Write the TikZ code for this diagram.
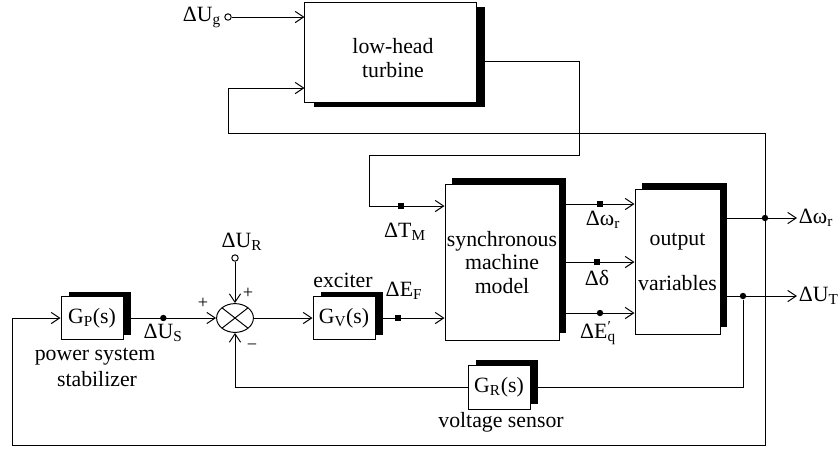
\documentclass[tikz,border=0pt]{standalone}
\usepackage{fontspec}
\setmainfont{Liberation Serif}
\usetikzlibrary{positioning,arrows.meta,shapes.geometric,shadows,calc}

\begin{document}
\begin{tikzpicture}[x=0.025cm, y=-0.025cm, line width=0.7pt,
  font=\fontsize{15.5}{17}\selectfont,
  >={Straight Barb[length=6pt,width=8pt]},
  block/.style={draw, fill=white, align=center, inner sep=1pt},
  shadeup/.style={drop shadow={shadow xshift=0.175cm, shadow yshift=0.175cm, fill=black, opacity=1}},
  shadesmall/.style={drop shadow={shadow xshift=0.19cm, shadow yshift=0.12cm, fill=black, opacity=1}},
  sqmark/.style={fill=black, minimum size=0.15cm, inner sep=0pt},
  tapdot/.style={circle, fill=black, minimum size=0.16cm, inner sep=0pt},
  port/.style={circle, draw, fill=white, minimum size=0.16cm, inner sep=0pt},
  sign/.style={font=\fontsize{13}{14}\selectfont, inner sep=0pt}]

  \useasboundingbox (0,0) rectangle (840,450);

  % Blocks
  \node[block, minimum width=4.275cm, minimum height=2.5cm,
    drop shadow={shadow xshift=0.225cm, shadow yshift=-0.13cm, fill=black, opacity=1}] (turb) at (390.5,52) {};
  \node[align=center] (turblbl) at (393,58) {low-head\\turbine};
  \node[block, shadeup, minimum width=2.85cm, minimum height=3.875cm] (sm) at (502,262.5) {synchronous\\machine\\model};
  \node[block, shadeup, minimum width=2.125cm, minimum height=3.6cm] (ov) at (677.5,262) {output\\[0.55cm]variables};
  \node[block, shadesmall, minimum width=1.55cm, minimum height=1.075cm] (gp) at (92,318) {G\textsubscript{P}(s)};
  \node[block, shadesmall, minimum width=1.55cm, minimum height=1.075cm] (gv) at (344,318) {G\textsubscript{V}(s)};
  \node[block, shadesmall, minimum width=1.55cm, minimum height=1.1cm] (gr) at (499,387) {G\textsubscript{R}(s)};

  % Summing point
  \node[draw, ellipse, minimum width=0.92cm, minimum height=0.72cm, inner sep=0pt,
    path picture={\draw (path picture bounding box.north west) -- (path picture bounding box.south east)
      (path picture bounding box.north east) -- (path picture bounding box.south west);}] (sum) at (235,318) {};

  % Block captions
  \node (psslbl) at (95,357) {power system};
  \node (stablbl) at (97,379) {stabilizer};
  \node (exclbl) at (343,280) {exciter};
  \node (vslbl) at (501,422) {voltage sensor};

  % Turbine input and output
  \node[port] (ug) at (228,17) {};
  \node[anchor=east, inner sep=2pt] (uglbl) at (ug.west) {ΔU\textsubscript{g}};
  \draw[->] (ug) -- (ug -| turb.west);

  \coordinate (tout) at ($(turb.east)+(0,9)$);
  \coordinate (tdown) at (579,155);
  \coordinate (tbend) at (369,206);
  \draw[->] (tout) -| (tdown) -| (tbend) -- node[sqmark, pos=0.43] (tmsq) {} (tbend -| sm.west);
  \node (tmlbl) at (405,232) {ΔT\textsubscript{M}};

  % Speed feedback to turbine
  \coordinate (wtap) at (765,218);
  \coordinate (tfb) at (228,133);
  \coordinate (tin) at ($(turb.west)+(0,36)$);
  \draw[->] (wtap) |- (tfb) |- (tin);

  % Machine states
  \draw[->] (sm.east |- 0,204) -- node[sqmark, pos=0.54] (wrsq) {} (ov.west |- 0,204);
  \draw[->] (sm.east |- 0,262) -- node[sqmark, pos=0.5] (dsq) {} (ov.west |- 0,262);
  \draw[->] (sm.east |- 0,313) -- node[tapdot, pos=0.54] (eqdot) {} (ov.west |- 0,313);
  \node (wrlbl) at (603,220) {Δω\textsubscript{r}};
  \node (dlbl) at (597,278) {Δδ};
  \node (eqlbl) at (598,333) {ΔE\rlap{\textsuperscript{′}}\textsubscript{q}};

  % Outputs
  \node[anchor=west, inner sep=1pt] (wout) at (797,218) {Δω\textsubscript{r}};
  \node[anchor=west, inner sep=1pt] (uout) at (797,296) {ΔU\textsubscript{T}};
  \draw[->] (ov.east |- wout) -- (wout.west);
  \draw[->] (ov.east |- uout) -- (uout.west);
  \node[tapdot] (wdot) at (wtap) {};
  \node[tapdot] (udot) at (743,296) {};

  % Stabilizer loop
  \coordinate (wbot) at (765,445);
  \coordinate (gpin) at (12,318);
  \draw[->] (wtap) -- (wbot) -| (gpin) -- (gp.west);

  % Voltage sensor loop
  \draw (udot) |- (gr.east);
  \draw[->] (gr.west) -| (sum.south);

  % Excitation path
  \draw[->] (gp.east) -- node[tapdot, pos=0.43] (usdot) {} (sum.west);
  \node (uslbl) at (163,333) {ΔU\textsubscript{S}};
  \draw[->] (sum.east) -- (gv.west);
  \draw[->] (gv.east) -- node[sqmark, pos=0.33] (efsq) {} (gv.east -| sm.west);
  \node (eflbl) at (404,291) {ΔE\textsubscript{F}};

  % Reference input
  \node[port] (ur) at (235,258) {};
  \node (urlbl) at (242,242) {ΔU\textsubscript{R}};
  \draw[->] (ur) -- (sum.north);
  \node[sign] (plus1) at (248,293) {+};
  \node[sign] (plus2) at (203,303) {+};
  \node[sign] (minus) at (252,347) {−};

\end{tikzpicture}
\end{document}
